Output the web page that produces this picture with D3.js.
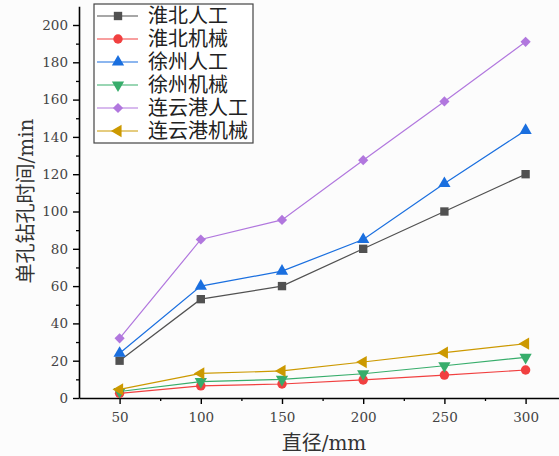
<!DOCTYPE html>
<html>
<head>
<meta charset="utf-8">
<script src="https://cdn.jsdelivr.net/npm/d3@7"></script>
<style>
  body { margin: 0; background: #fcfcfc; }
  svg { display: block; }
</style>
</head>
<body>
<script>
var canvasWidth = 559;
var canvasHeight = 456;

// data
var diameters = [50, 100, 150, 200, 250, 300];
var seriesNames = ["淮北人工", "淮北机械", "徐州人工", "徐州机械", "连云港人工", "连云港机械"];
var huaibeiManual = [20, 53, 60, 80, 100, 120];
var huaibeiMachine = [2.5, 6.5, 7.5, 9.7, 12.3, 15];
var xuzhouManual = [24, 60, 68, 85, 115, 143.5];
var xuzhouMachine = [3.5, 8.8, 10, 13, 17.3, 21.8];
var lygManual = [32, 85, 95.5, 127.5, 159, 191];
var lygMachine = [4.6, 13.2, 14.5, 19.3, 24.3, 29.1];
var colors = ["#515151", "#F14040", "#1A6FDF", "#37AD6B", "#B177DE", "#CC9900"];
var yTicks = [0, 20, 40, 60, 80, 100, 120, 140, 160, 180, 200];
var xTicks = [50, 100, 150, 200, 250, 300];

var allSeries = [huaibeiManual, huaibeiMachine, xuzhouManual, xuzhouMachine, lygManual, lygMachine];
var symbols = [d3.symbolSquare, d3.symbolCircle, d3.symbolTriangle, d3.symbolTriangle, d3.symbolSquare, d3.symbolTriangle];
var symbolSizes = [70, 70, 65, 65, 52, 65];
var symbolRotate = [0, 0, 0, 180, 45, -90];

var margin = { top: 6, left: 79, bottom: 58 };

var svg = d3.select("body").append("svg")
    .attr("width", canvasWidth)
    .attr("height", canvasHeight);

var xScale = d3.scaleLinear().domain([25, 325]).range([margin.left, margin.left + 300 * 1.624]);
var yScale = d3.scaleLinear().domain([0, 210]).range([398, 398 - 210 * 1.865]);

var font = "'DejaVu Serif', 'Noto Sans CJK SC', serif";

// minor ticks first
svg.append("g")
    .attr("transform", "translate(0," + yScale(0) + ")")
    .call(d3.axisBottom(xScale).tickValues(d3.range(75, 326, 50)).tickSize(3).tickFormat(""))
    .call(g => g.select(".domain").remove())
    .selectAll("line").attr("stroke-width", 1.3);

svg.append("g")
    .attr("transform", "translate(" + margin.left + ",0)")
    .call(d3.axisLeft(yScale).tickValues(d3.range(10, 210, 20)).tickSize(3).tickFormat(""))
    .call(g => g.select(".domain").remove())
    .selectAll("line").attr("stroke-width", 1.3);

// X axis
var xAxis = svg.append("g")
    .attr("transform", "translate(0," + yScale(0) + ")")
    .call(d3.axisBottom(xScale).tickValues(xTicks).tickSize(6).tickSizeOuter(0).tickPadding(8));
xAxis.attr("font-family", font).attr("font-size", 13.5);
xAxis.select(".domain").attr("stroke-width", 1.6);
xAxis.selectAll("line").attr("stroke-width", 1.4);
xAxis.selectAll("text").attr("fill", "#444");

// Y axis
var yAxis = svg.append("g")
    .attr("transform", "translate(" + margin.left + ",0)")
    .call(d3.axisLeft(yScale).tickValues(yTicks).tickSize(6).tickSizeOuter(0).tickPadding(5));
yAxis.attr("font-family", font).attr("font-size", 13.5);
yAxis.select(".domain").attr("stroke-width", 1.6);
yAxis.selectAll("line").attr("stroke-width", 1.4);
yAxis.selectAll("text").attr("fill", "#444");

// axis titles
svg.append("text")
    .attr("x", 324)
    .attr("y", 450)
    .attr("text-anchor", "middle")
    .attr("font-size", "20px")
    .attr("font-family", font)
    .attr("fill", "#333")
    .text("直径/mm");

svg.append("text")
    .attr("transform", "translate(33,201) rotate(-90)")
    .attr("text-anchor", "middle")
    .attr("font-size", "20px")
    .attr("font-family", font)
    .attr("fill", "#333")
    .text("单孔钻孔时间/min");

var line = d3.line()
    .x(function(d, i) { return xScale(diameters[i]); })
    .y(function(d) { return yScale(d); });

allSeries.forEach(function(values, k) {
    svg.append("path")
        .datum(values)
        .attr("d", line)
        .style("fill", "none")
        .style("stroke", colors[k])
        .style("stroke-width", 1.2);

    svg.append("g").selectAll("path")
        .data(values)
        .join("path")
        .attr("transform", function(d, i) {
            return "translate(" + xScale(diameters[i]) + "," + yScale(d) + ") rotate(" + symbolRotate[k] + ")";
        })
        .attr("d", d3.symbol().type(symbols[k]).size(symbolSizes[k]))
        .attr("fill", colors[k]);
});

// legend
var legend = svg.append("g").attr("transform", "translate(94,4)");
legend.append("rect")
    .attr("width", 159)
    .attr("height", 139)
    .attr("fill", "#ffffff")
    .attr("stroke", "#444")
    .attr("stroke-width", 1.2);

seriesNames.forEach(function(name, k) {
    var y = 12 + k * 23;
    legend.append("line")
        .attr("x1", 3).attr("x2", 44)
        .attr("y1", y).attr("y2", y)
        .attr("stroke", colors[k])
        .attr("stroke-width", 1.2);
    legend.append("path")
        .attr("transform", "translate(24," + y + ") rotate(" + symbolRotate[k] + ")")
        .attr("d", d3.symbol().type(symbols[k]).size(symbolSizes[k]))
        .attr("fill", colors[k]);
    legend.append("text")
        .attr("x", 54)
        .attr("y", y + 7)
        .attr("font-size", "20px")
        .attr("font-family", font)
        .attr("fill", "#222")
        .text(name);
});
</script>
</body>
</html>
